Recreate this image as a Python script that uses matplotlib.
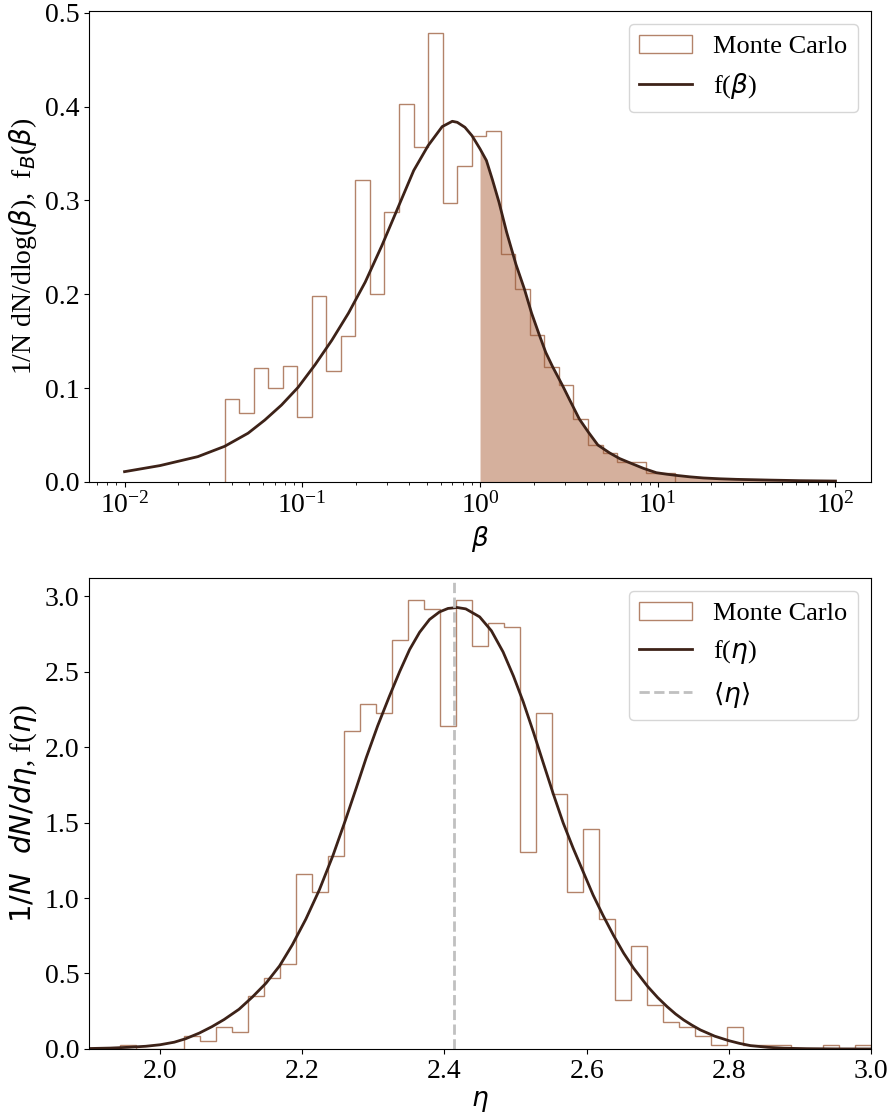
import matplotlib
matplotlib.use("Agg")
import matplotlib.pyplot as plt
import numpy as np

plt.rcParams['font.family'] = ['Liberation Serif', 'DejaVu Serif']
plt.rcParams['mathtext.fontset'] = 'dejavusans'

# --- panel 1: beta distribution (log10 bin edges, density per bin) ---
beta_edges_log = np.linspace(-1.437, 1.098, 32)
beta_hist = [0.088, 0.073, 0.121, 0.100, 0.124, 0.069, 0.198, 0.118, 0.156, 0.322,
             0.200, 0.288, 0.403, 0.357, 0.478, 0.297, 0.337, 0.369, 0.374, 0.243,
             0.206, 0.157, 0.123, 0.103, 0.067, 0.039, 0.031, 0.021, 0.021, 0.010,
             0.010]

# model curve (log10 beta, f)
fb_logx = [-2.0, -1.8, -1.588, -1.437, -1.305, -1.211, -1.117, -1.023, -0.928, -0.834,
           -0.740, -0.646, -0.552, -0.458, -0.373, -0.292, -0.213, -0.156, -0.128, -0.085,
           -0.045, 0.0, 0.036, 0.07, 0.107, 0.15, 0.202, 0.249, 0.29, 0.333,
           0.37, 0.408, 0.465, 0.503, 0.559, 0.61, 0.663, 0.729, 0.785, 0.842,
           0.92, 0.992, 1.05, 1.106, 1.18, 1.256, 1.35, 1.444, 1.54, 1.633,
           1.72, 1.80, 1.90, 2.0]
fb_vals = [0.011, 0.0175, 0.027, 0.038, 0.052, 0.066, 0.082, 0.101, 0.125, 0.151,
           0.180, 0.213, 0.252, 0.294, 0.332, 0.3585, 0.3787, 0.3844, 0.3833, 0.378,
           0.369, 0.355, 0.3426, 0.322, 0.298, 0.266, 0.232, 0.206, 0.180, 0.157,
           0.138, 0.123, 0.1025, 0.088, 0.067, 0.053, 0.0394, 0.031, 0.025, 0.0205,
           0.0145, 0.0099, 0.0083, 0.0070, 0.0055, 0.0043, 0.0034, 0.0028, 0.0024, 0.0020,
           0.0017, 0.0014, 0.0012, 0.0010]

# --- panel 2: eta distribution ---
eta_edges = np.linspace(1.9438, 3.0, 48)
eta_hist = [0.029, 0.0, 0.0, 0.0, 0.088, 0.055, 0.148, 0.115, 0.353, 0.473,
            0.564, 1.158, 1.037, 1.275, 2.109, 2.286, 2.226, 2.706, 2.971, 2.913,
            2.140, 2.971, 2.672, 2.823, 2.794, 1.306, 2.226, 1.691, 1.037, 1.454,
            0.860, 0.325, 0.681, 0.294, 0.177, 0.146, 0.088, 0.027, 0.148, 0.027,
            0.027, 0.027, 0.0, 0.0, 0.027, 0.0, 0.027]

feta_x = [1.90, 1.93, 1.955, 1.98, 2.0, 2.02, 2.036, 2.055, 2.073, 2.09,
          2.111, 2.13, 2.149, 2.168, 2.186, 2.205, 2.224, 2.243, 2.261, 2.276,
          2.290, 2.306, 2.3225, 2.337, 2.351, 2.365, 2.379, 2.393, 2.405, 2.418,
          2.43, 2.4495, 2.466, 2.4824, 2.497, 2.5107, 2.525, 2.539, 2.553, 2.567,
          2.581, 2.595, 2.609, 2.623, 2.638, 2.652, 2.666, 2.686, 2.70, 2.713,
          2.725, 2.7365, 2.748, 2.760, 2.78, 2.80, 2.815, 2.8306, 2.855, 2.8776,
          2.91, 2.95, 3.0]
feta_y = [0.003, 0.006, 0.011, 0.018, 0.028, 0.045, 0.068, 0.105, 0.148, 0.195,
          0.263, 0.345, 0.436, 0.55, 0.690, 0.86, 1.054, 1.28, 1.52, 1.73,
          1.93, 2.14, 2.336, 2.50, 2.646, 2.76, 2.845, 2.895, 2.918, 2.924,
          2.915, 2.862, 2.77, 2.63, 2.47, 2.30, 2.10, 1.894, 1.69, 1.497,
          1.33, 1.175, 1.02, 0.885, 0.75, 0.635, 0.535, 0.413, 0.34, 0.281,
          0.232, 0.192, 0.158, 0.126, 0.085, 0.055, 0.037, 0.022, 0.011, 0.005,
          0.002, 0.0005, 0.0]
eta_mean = 2.414

hist_col = '#9a5a38'
line_col = '#3d2218'
fill_col = '#d5b09d'

fig = plt.figure(figsize=(8.91, 11.17), dpi=100)
ax1 = fig.add_axes([0.0999, 0.5685, 0.8777, 0.4217])
ax2 = fig.add_axes([0.0999, 0.0609, 0.8777, 0.4217])

# top
edges1 = 10 ** beta_edges_log
ax1.hist(edges1[:-1], bins=edges1, weights=beta_hist, histtype='step',
         color=hist_col, alpha=0.75, lw=1.0, label='Monte Carlo')
bx = 10 ** np.array(fb_logx)
ax1.plot(bx, fb_vals, color=line_col, lw=2.0, label=r'f($\beta$)')
mask = bx >= 1.0
ax1.fill_between(bx[mask], 0, np.array(fb_vals)[mask], color=fill_col, lw=0)
ax1.set_xscale('log')
ax1.set_xlim(10 ** -2.2, 10 ** 2.2)
ax1.set_ylim(0, 0.502)
ax1.set_yticks([0.0, 0.1, 0.2, 0.3, 0.4, 0.5])
ax1.set_xlabel(r'$\beta$', fontsize=19)
ax1.set_ylabel(r'1/N dN/dlog($\beta$),  f$_B$($\beta$)', fontsize=20)
ax1.tick_params(labelsize=20)
ax1.legend(loc='upper right', fontsize=19)

# bottom
ax2.hist(eta_edges[:-1], bins=eta_edges, weights=eta_hist, histtype='step',
         color=hist_col, alpha=0.75, lw=1.0, label='Monte Carlo')
ax2.plot(feta_x, feta_y, color=line_col, lw=2.0, label=r'f($\eta$)')
ax2.axvline(eta_mean, color='#c0c0c0', ls='--', lw=2.0, label=r'$\langle\eta\rangle$')
ax2.set_xlim(1.9, 3.0)
ax2.set_ylim(0, 3.12)
ax2.set_xlabel(r'$\eta$', fontsize=19)
ax2.set_ylabel(r'$1/N\ \ dN/d\eta$, f($\eta$)', fontsize=21)
ax2.tick_params(labelsize=20)
ax2.legend(loc='upper right', fontsize=19)

fig.savefig('out.png', dpi=100)
